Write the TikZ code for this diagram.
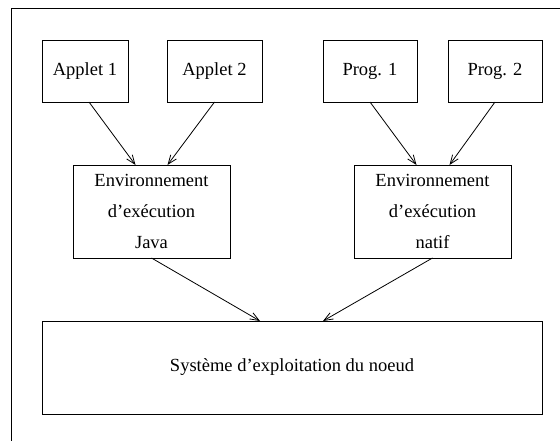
\documentclass[tikz,border=0pt]{standalone}
\usepackage{fontspec}
\setmainfont{Liberation Serif}
\usepackage{tikz}
\usetikzlibrary{arrows.meta}

\begin{document}
\begin{tikzpicture}[x=1pt, y=-1pt, line width=0.8pt,
	boite/.style = {draw, rectangle, inner sep=0pt, outer sep=0pt, align=center,
		font=\fontsize{18.5}{31}\selectfont},
	fleche/.style = {-{Straight Barb[length=9pt,width=7pt,line width=0.8pt]}}]
	\useasboundingbox (0,0) rectangle (560,441);
	\draw (11,441) -- (11,8) -- (560,8);
	\node[boite, minimum width=86pt, minimum height=62pt] (A1) at (85,71){Applet 1};
	\node[boite, minimum width=95pt, minimum height=62pt] (A2) at (214.5,71){Applet 2};
	\node[boite, minimum width=94pt, minimum height=62pt] (P1) at (370,71){Prog. 1};
	\node[boite, minimum width=94pt, minimum height=62pt] (P2) at (495,71){Prog. 2};
	\node[boite, minimum width=157pt, minimum height=93pt] (java) at (151.5,211.5){Environnement\\d’exécution\\Java};
	\node[boite, minimum width=157pt, minimum height=93pt] (natif) at (432.5,211.5){Environnement\\d’exécution\\natif};
	\node[boite, minimum width=500pt, minimum height=93pt] (os) at (292,367.5){Système d’exploitation du noeud};
	\draw[fleche] ([xshift=4pt]A1.south) -- ([xshift=-16pt]java.north);
	\draw[fleche] (A2.south) -- ([xshift=16pt]java.north);
	\draw[fleche] (P1.south) -- ([xshift=-16pt]natif.north);
	\draw[fleche] (P2.south) -- ([xshift=17pt]natif.north);
	\draw[fleche] (java.south) -- ([xshift=-32pt]os.north);
	\draw[fleche] (natif.south) -- ([xshift=31pt]os.north);
\end{tikzpicture}
\end{document}
